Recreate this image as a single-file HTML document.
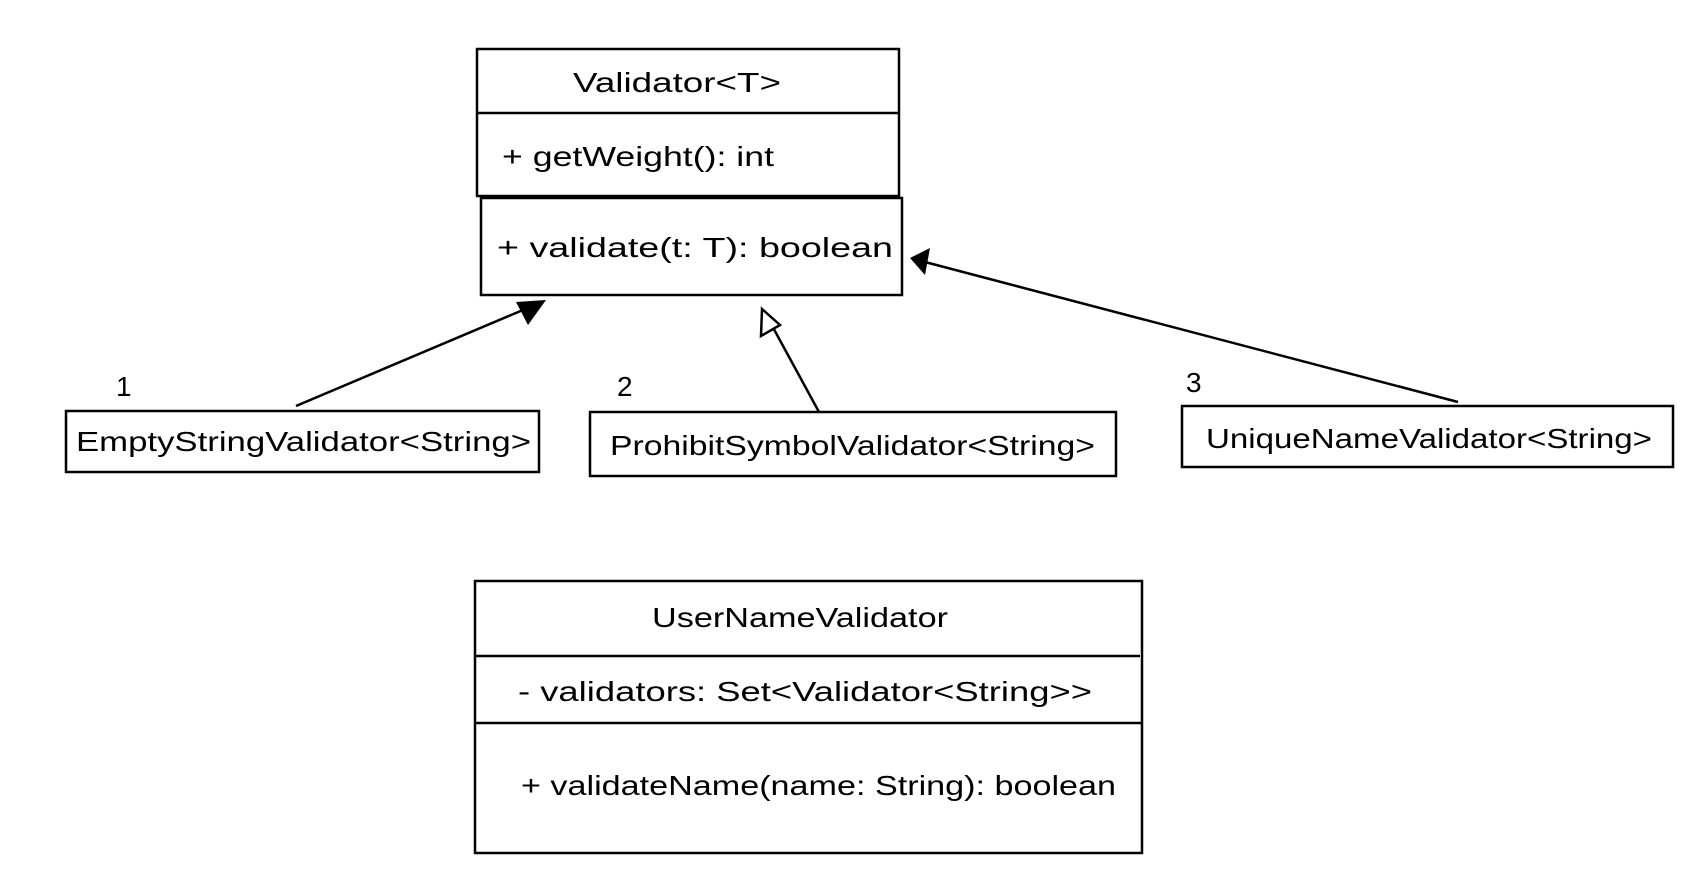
<!DOCTYPE html>
<html><head><meta charset="utf-8"><style>html,body{margin:0;padding:0;background:#fff}svg{display:block}</style></head>
<body>
<svg width="1704" height="880" viewBox="0 0 1704 880" xmlns="http://www.w3.org/2000/svg" font-family="Liberation Sans, sans-serif" font-size="28" fill="#000">
<g fill="none" stroke="#000" stroke-width="2.5">
<rect x="477" y="49" width="422" height="147"/>
<line x1="477" y1="113" x2="899" y2="113"/>
<rect x="481" y="198" width="421" height="97"/>
<rect x="66" y="411" width="473" height="61"/>
<rect x="590" y="412" width="526" height="64"/>
<rect x="1182" y="406" width="491" height="61"/>
<rect x="475" y="581" width="667" height="272"/>
<line x1="475" y1="656" x2="1140" y2="656"/>
<line x1="475" y1="723" x2="1142" y2="723"/>
<line x1="296" y1="406" x2="530" y2="307"/>
<line x1="819" y1="412" x2="770" y2="322"/>
<line x1="1458" y1="402" x2="925" y2="262"/>
</g>
<polygon points="546,300 516,302 528,325" fill="#000"/>
<polygon points="762,309 761,336 780,325" fill="#fff" stroke="#000" stroke-width="2.5"/>
<polygon points="910,258 930,248 925,275" fill="#000"/>
<text x="573" y="92" textLength="208" lengthAdjust="spacingAndGlyphs">Validator&lt;T&gt;</text>
<text x="502" y="166" textLength="272" lengthAdjust="spacingAndGlyphs">+ getWeight(): int</text>
<text x="497" y="257" textLength="396" lengthAdjust="spacingAndGlyphs">+ validate(t: T): boolean</text>
<text x="116" y="396">1</text>
<text x="617" y="396">2</text>
<text x="1186" y="392">3</text>
<text x="76" y="451" textLength="455" lengthAdjust="spacingAndGlyphs">EmptyStringValidator&lt;String&gt;</text>
<text x="610" y="455" textLength="485" lengthAdjust="spacingAndGlyphs">ProhibitSymbolValidator&lt;String&gt;</text>
<text x="1206" y="448" textLength="446" lengthAdjust="spacingAndGlyphs">UniqueNameValidator&lt;String&gt;</text>
<text x="652" y="627" textLength="296" lengthAdjust="spacingAndGlyphs">UserNameValidator</text>
<text x="518" y="701" textLength="574" lengthAdjust="spacingAndGlyphs">- validators: Set&lt;Validator&lt;String&gt;&gt;</text>
<text x="521" y="795" textLength="595" lengthAdjust="spacingAndGlyphs">+ validateName(name: String): boolean</text>
</svg>
</body></html>
